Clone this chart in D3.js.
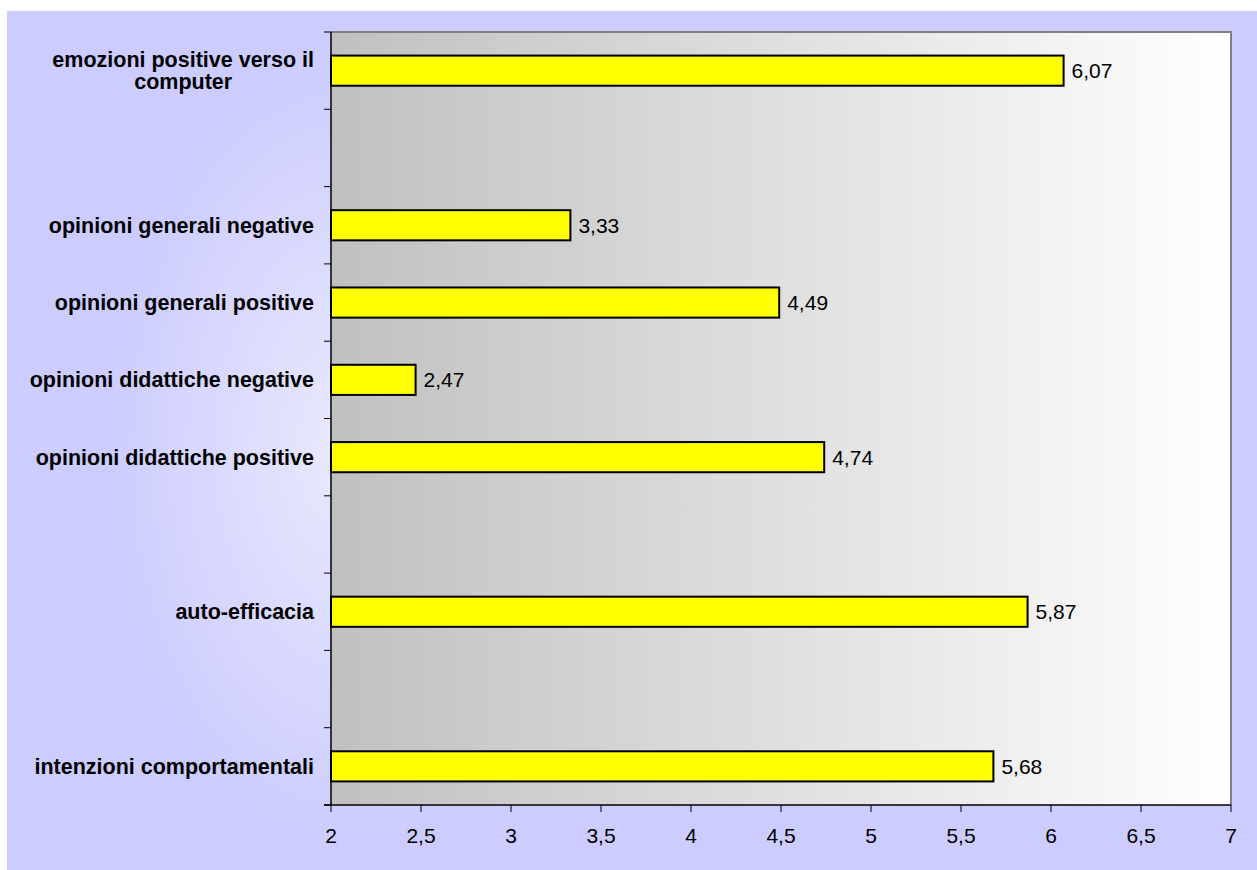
<!DOCTYPE html>
<html>
<head>
<meta charset="utf-8">
<script src="https://cdn.jsdelivr.net/npm/d3@7"></script>
<style>
  html, body { margin: 0; padding: 0; background: #ffffff; }
  svg { display: block; }
  text { font-family: "Liberation Sans", Arial, sans-serif; }
</style>
</head>
<body>
<svg id="chart" width="1257" height="870"></svg>
<script>
// ---- data ----
const categories = [
  "emozioni positive verso il computer",
  "",
  "opinioni generali negative",
  "opinioni generali positive",
  "opinioni didattiche negative",
  "opinioni didattiche positive",
  "",
  "auto-efficacia",
  "",
  "intenzioni comportamentali"
];
const values = [6.07, null, 3.33, 4.49, 2.47, 4.74, null, 5.87, null, 5.68];
const valueLabels = ["6,07", "", "3,33", "4,49", "2,47", "4,74", "", "5,87", "", "5,68"];
const xTicks = [2, 2.5, 3, 3.5, 4, 4.5, 5, 5.5, 6, 6.5, 7];
const xTickLabels = ["2", "2,5", "3", "3,5", "4", "4,5", "5", "5,5", "6", "6,5", "7"];

const svg = d3.select("#chart");
const W = 1257, H = 870;
const plot = { left: 331, right: 1231, top: 32, bottom: 805 };

// ---- backgrounds ----
const defs = svg.append("defs");
const rg = defs.append("radialGradient").attr("id", "bgGlow")
  .attr("gradientUnits", "userSpaceOnUse")
  .attr("cx", 345).attr("cy", 450).attr("r", 400)
  .attr("gradientTransform", "translate(345,450) scale(0.6,1) translate(-345,-450)");
rg.append("stop").attr("offset", "0%").attr("stop-color", "#e9e9fd");
rg.append("stop").attr("offset", "100%").attr("stop-color", "#ccccff");

const lg = defs.append("linearGradient").attr("id", "plotGrad")
  .attr("x1", "0%").attr("x2", "100%").attr("y1", "0%").attr("y2", "0%");
lg.append("stop").attr("offset", "0%").attr("stop-color", "#c0c0c0");
lg.append("stop").attr("offset", "100%").attr("stop-color", "#ffffff");

svg.append("rect").attr("x", 7).attr("y", 11).attr("width", W - 7).attr("height", H - 11)
  .attr("fill", "#ccccff");
svg.append("rect").attr("x", 7).attr("y", 11).attr("width", W - 7).attr("height", H - 11)
  .attr("fill", "url(#bgGlow)");

// ---- scales ----
const x = d3.scaleLinear().domain([2, 7]).range([plot.left, plot.right]);
const keys = categories.map((c, i) => i);
const y = d3.scaleBand().domain(keys).range([plot.top, plot.bottom]).padding(0);

svg.append("rect")
  .attr("x", plot.left).attr("y", plot.top)
  .attr("width", plot.right - plot.left).attr("height", plot.bottom - plot.top)
  .attr("fill", "url(#plotGrad)");

// top and right grey border
svg.append("path")
  .attr("d", `M${plot.left},${plot.top}H${plot.right}V${plot.bottom}`)
  .attr("fill", "none").attr("stroke", "#808080").attr("stroke-width", 2);

// ---- bars ----
const barH = y.bandwidth() * 0.39;
const data = keys.filter(i => values[i] !== null);
svg.append("g").selectAll("rect").data(data).join("rect")
  .attr("x", x(2))
  .attr("y", i => y(i) + y.bandwidth() / 2 - barH / 2)
  .attr("width", i => x(values[i]) - x(2))
  .attr("height", barH)
  .attr("fill", "#ffff00")
  .attr("stroke", "#000000")
  .attr("stroke-width", 2);

svg.append("g").selectAll("text").data(data).join("text")
  .attr("x", i => x(values[i]) + 8)
  .attr("y", i => y(i) + y.bandwidth() / 2)
  .attr("dy", "0.35em")
  .attr("font-size", 21)
  .attr("fill", "#000")
  .text(i => valueLabels[i]);

// ---- y axis ----
const yAxisG = svg.append("g");
yAxisG.append("line")
  .attr("x1", plot.left).attr("x2", plot.left)
  .attr("y1", plot.top).attr("y2", plot.bottom)
  .attr("stroke", "#000").attr("stroke-width", 1.5);
const boundaries = keys.map(i => y(i)).concat([plot.bottom]);
yAxisG.selectAll("line.tick").data(boundaries).join("line")
  .attr("class", "tick")
  .attr("x1", plot.left - 7).attr("x2", plot.left)
  .attr("y1", d => d).attr("y2", d => d)
  .attr("stroke", "#000").attr("stroke-width", 1);

// category labels with wrapping
const maxW = 292;
const lab = yAxisG.selectAll("text").data(keys.filter(i => categories[i] !== "")).join("text")
  .attr("font-size", 21.5).attr("font-weight", "bold").attr("fill", "#000")
  .attr("text-anchor", "middle");
lab.each(function(i) {
  const t = d3.select(this);
  const words = categories[i].split(" ");
  const lines = [];
  let cur = [];
  words.forEach(w => {
    cur.push(w);
    t.text(cur.join(" "));
    if (this.getComputedTextLength() > maxW && cur.length > 1) {
      cur.pop();
      lines.push(cur.join(" "));
      cur = [w];
    }
  });
  lines.push(cur.join(" "));
  t.text(null);
  const widths = lines.map(l => { t.text(l); return this.getComputedTextLength(); });
  t.text(null);
  const maxLine = Math.max(...widths);
  const cx = 314 - maxLine / 2;
  const lh = 22;
  const cy = y(i) + y.bandwidth() / 2 - (lines.length - 1) * lh / 2;
  lines.forEach((l, k) => {
    t.append("tspan").attr("x", cx).attr("y", cy + k * lh).attr("dy", "0.35em").text(l);
  });
});

// ---- x axis ----
const xAxisG = svg.append("g");
xAxisG.append("line")
  .attr("x1", plot.left - 7).attr("x2", plot.right)
  .attr("y1", plot.bottom).attr("y2", plot.bottom)
  .attr("stroke", "#000").attr("stroke-width", 1.5);
xAxisG.selectAll("line.tick").data(xTicks).join("line")
  .attr("class", "tick")
  .attr("x1", d => x(d)).attr("x2", d => x(d))
  .attr("y1", plot.bottom).attr("y2", plot.bottom + 7)
  .attr("stroke", "#000").attr("stroke-width", 1);
xAxisG.selectAll("text").data(xTicks).join("text")
  .attr("x", d => x(d)).attr("y", 836).attr("dy", "0.35em")
  .attr("text-anchor", "middle").attr("font-size", 21).attr("fill", "#000")
  .text((d, k) => xTickLabels[k]);
</script>
</body>
</html>
